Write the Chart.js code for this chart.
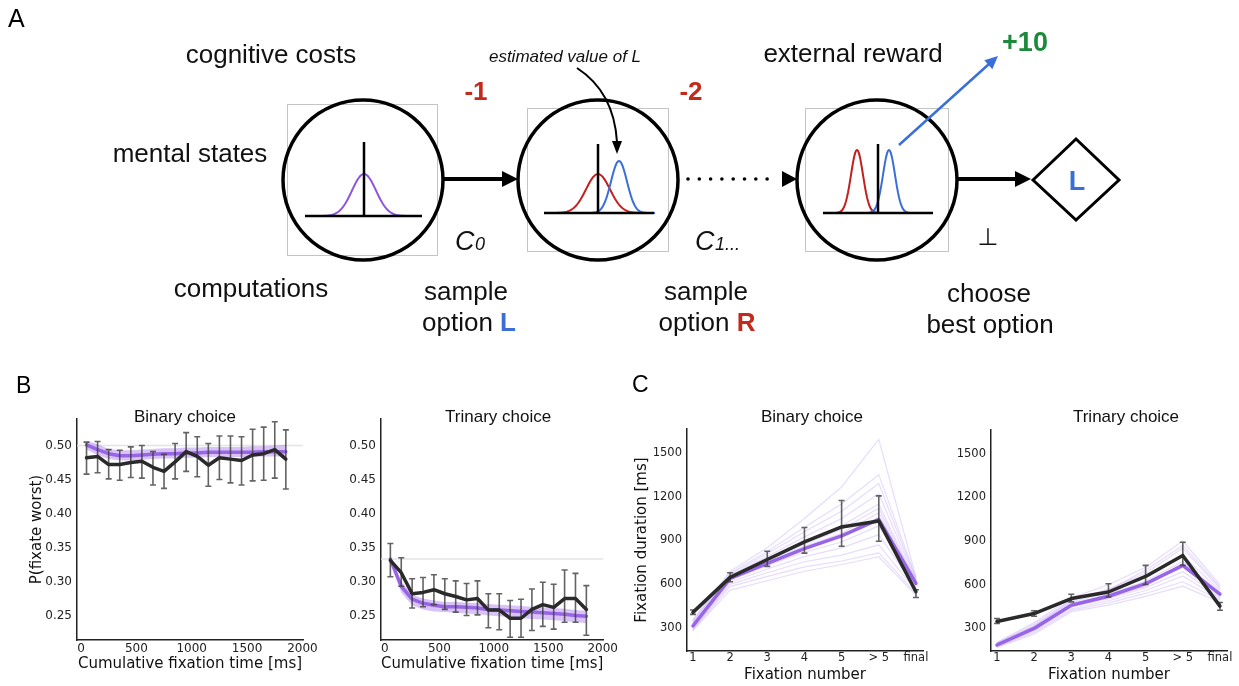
<!DOCTYPE html>
<html>
<head>
<meta charset="utf-8">
<script src="https://cdn.jsdelivr.net/npm/chart.js@4.4.1/dist/chart.umd.min.js"></script>
<style>
  html, body { margin: 0; padding: 0; background: #fff; }
  #wrap { position: relative; width: 1239px; height: 686px; overflow: hidden; }
  canvas { position: absolute; }
</style>
</head>
<body>
<div id="wrap">
  <canvas id="panelA" width="1239" height="400" style="left:0;top:0"></canvas>
  <canvas id="bBinary" width="320" height="286" style="left:0;top:400px"></canvas>
  <canvas id="bTrinary" width="300" height="286" style="left:320px;top:400px"></canvas>
  <canvas id="cBinary" width="310" height="286" style="left:620px;top:400px"></canvas>
  <canvas id="cTrinary" width="309" height="286" style="left:930px;top:400px"></canvas>
</div>
<script>
// ---- data ----
var fixTimes = [50, 150, 250, 350, 450, 550, 650, 750, 850, 950, 1050, 1150, 1250, 1350, 1450, 1550, 1650, 1750, 1850];
var timeTicks = [0, 500, 1000, 1500, 2000];
var probTicks = [0.25, 0.30, 0.35, 0.40, 0.45, 0.50];

var binaryMean = [0.482, 0.484, 0.472, 0.472, 0.475, 0.477, 0.468, 0.462, 0.476, 0.491, 0.484, 0.471, 0.482, 0.480, 0.478, 0.486, 0.488, 0.494, 0.480];
var binaryLo   = [0.458, 0.460, 0.451, 0.449, 0.453, 0.452, 0.442, 0.437, 0.451, 0.462, 0.454, 0.440, 0.450, 0.445, 0.442, 0.448, 0.449, 0.452, 0.436];
var binaryHi   = [0.505, 0.506, 0.494, 0.493, 0.498, 0.500, 0.491, 0.487, 0.503, 0.519, 0.513, 0.503, 0.514, 0.514, 0.513, 0.524, 0.527, 0.535, 0.523];
var binaryModel   = [0.501, 0.494, 0.488, 0.485, 0.485, 0.486, 0.487, 0.488, 0.488, 0.489, 0.489, 0.490, 0.490, 0.490, 0.490, 0.490, 0.491, 0.491, 0.491];
var binaryModelLo = [0.494, 0.486, 0.480, 0.478, 0.478, 0.479, 0.480, 0.481, 0.481, 0.482, 0.482, 0.483, 0.483, 0.483, 0.483, 0.483, 0.484, 0.484, 0.484];
var binaryModelHi = [0.507, 0.502, 0.495, 0.493, 0.493, 0.494, 0.495, 0.496, 0.496, 0.497, 0.497, 0.498, 0.498, 0.498, 0.498, 0.499, 0.499, 0.500, 0.501];
var binaryChance = 0.5;

var trinaryMean = [0.331, 0.313, 0.282, 0.284, 0.288, 0.282, 0.278, 0.273, 0.275, 0.258, 0.258, 0.246, 0.246, 0.259, 0.266, 0.262, 0.275, 0.275, 0.259];
var trinaryLo   = [0.307, 0.293, 0.261, 0.263, 0.266, 0.259, 0.255, 0.250, 0.251, 0.232, 0.229, 0.218, 0.218, 0.228, 0.234, 0.230, 0.240, 0.240, 0.221];
var trinaryHi   = [0.356, 0.335, 0.304, 0.306, 0.310, 0.304, 0.301, 0.297, 0.301, 0.282, 0.282, 0.272, 0.274, 0.289, 0.299, 0.296, 0.317, 0.312, 0.294];
var trinaryModel   = [0.333, 0.293, 0.274, 0.268, 0.265, 0.263, 0.263, 0.262, 0.261, 0.259, 0.258, 0.257, 0.256, 0.255, 0.254, 0.253, 0.252, 0.250, 0.249];
var trinaryModelLo = [0.327, 0.284, 0.265, 0.259, 0.256, 0.255, 0.254, 0.253, 0.252, 0.250, 0.249, 0.248, 0.246, 0.245, 0.244, 0.243, 0.242, 0.240, 0.239];
var trinaryModelHi = [0.337, 0.300, 0.281, 0.275, 0.272, 0.270, 0.270, 0.269, 0.268, 0.267, 0.266, 0.265, 0.264, 0.263, 0.262, 0.261, 0.260, 0.258, 0.257];
var trinaryChance = 0.333;

var fixNumbers = [1, 2, 3, 4, 5, 6, 7];
var fixLabels = ['1', '2', '3', '4', '5', '> 5', 'final'];
var durTicks = [300, 600, 900, 1200, 1500];

var durBinaryMean  = [409, 648, 770, 891, 993, 1034, 550];
var durBinaryLo    = [395, 618, 723, 814, 861, 895, 511];
var durBinaryHi    = [425, 680, 827, 989, 1173, 1205, 564];
var durBinaryModel = [316, 641, 743, 845, 932, 1045, 607];
var durBinarySims = [
  [285, 561, 625, 690, 736, 789, 527],
  [292, 585, 655, 720, 760, 815, 540],
  [300, 600, 680, 755, 800, 870, 560],
  [306, 615, 705, 790, 850, 940, 575],
  [312, 628, 730, 820, 890, 1000, 590],
  [322, 640, 755, 860, 950, 1090, 605],
  [330, 650, 770, 890, 1000, 1150, 615],
  [338, 660, 790, 925, 1050, 1220, 625],
  [345, 670, 810, 960, 1100, 1290, 635],
  [352, 678, 825, 990, 1150, 1350, 645],
  [362, 690, 850, 1050, 1266, 1591, 652],
  [326, 645, 762, 875, 975, 1120, 610]
];

var durTrinaryMean  = [348, 402, 505, 550, 657, 801, 453];
var durTrinaryLo    = [334, 384, 482, 516, 601, 733, 425];
var durTrinaryHi    = [368, 421, 535, 607, 733, 892, 478];
var durTrinaryModel = [186, 300, 459, 521, 607, 733, 535];
var durTrinarySims = [
  [170, 260, 415, 460, 520, 590, 480],
  [175, 270, 425, 475, 540, 620, 495],
  [180, 280, 435, 490, 560, 660, 505],
  [185, 290, 450, 505, 580, 690, 515],
  [190, 300, 460, 520, 600, 720, 530],
  [192, 310, 470, 535, 625, 760, 545],
  [195, 320, 480, 550, 650, 800, 560],
  [200, 330, 495, 570, 680, 850, 575],
  [205, 340, 510, 600, 720, 900, 600],
  [188, 295, 455, 515, 590, 740, 525],
  [198, 315, 490, 560, 700, 870, 585]
];

// ---- styles ----
var SANS = '"Liberation Sans", Arial, sans-serif';
var DEJA = '"DejaVu Sans", sans-serif';
var BLACK = '#2a2a2a';
var PURPLE = '#9765e6';
var BAND = 'rgba(170,120,240,0.45)';
var SIM = 'rgba(175,140,242,0.3)';
var RED = '#c42a1c';
var BLUE = '#3a6fd8';
var GREEN = '#1c8a3a';

Chart.defaults.animation = false;
Chart.defaults.devicePixelRatio = 1;

function pts(xs, ys) {
  return xs.map(function (x, i) { return { x: x, y: ys[i] }; });
}

// error bars, chance line and panel title
function decor(conf) {
  return {
    id: 'decor',
    beforeDatasetsDraw: function (chart) {
      if (conf.chance == null) return;
      var ctx = chart.ctx, a = chart.chartArea;
      var py = chart.scales.y.getPixelForValue(conf.chance);
      ctx.save();
      ctx.strokeStyle = '#e4e4e4';
      ctx.lineWidth = 1.5;
      ctx.beginPath(); ctx.moveTo(a.left, py); ctx.lineTo(a.right, py); ctx.stroke();
      ctx.restore();
    },
    beforeDatasetDraw: function (chart, args) {
      if (args.index !== 0) return;
      var ctx = chart.ctx, sx = chart.scales.x, sy = chart.scales.y;
      ctx.save();
      ctx.strokeStyle = 'rgba(60,60,60,0.8)';
      ctx.lineWidth = 1.6;
      conf.xs.forEach(function (x, i) {
        var px = sx.getPixelForValue(x);
        var p1 = sy.getPixelForValue(conf.lo[i]), p2 = sy.getPixelForValue(conf.hi[i]);
        ctx.beginPath();
        ctx.moveTo(px, p1); ctx.lineTo(px, p2);
        ctx.moveTo(px - 3, p1); ctx.lineTo(px + 3, p1);
        ctx.moveTo(px - 3, p2); ctx.lineTo(px + 3, p2);
        ctx.stroke();
      });
      ctx.restore();
    },
    afterDraw: function (chart) {
      var ctx = chart.ctx, a = chart.chartArea;
      ctx.save();
      ctx.font = '17px ' + SANS;
      ctx.fillStyle = '#111';
      ctx.textAlign = 'center';
      ctx.textBaseline = 'alphabetic';
      ctx.fillText(conf.title, (a.left + a.right) / 2 + conf.titleDx, a.top + conf.titleDy);
      ctx.restore();
    }
  };
}

function axisBase(extra) {
  var o = {
    grid: { display: false, drawTicks: false },
    border: { display: true, color: '#222', width: 1.5 },
    ticks: { color: '#222', maxRotation: 0, autoSkip: false }
  };
  return Object.assign(o, extra);
}

function makeChart(id, c) {
  var datasets = [
    { data: pts(c.xs, c.mean), borderColor: BLACK, borderWidth: 3.5, pointRadius: 0, fill: false, order: 0 },
    { data: pts(c.xs, c.model), borderColor: PURPLE, borderWidth: 3.5, pointRadius: 0, fill: false, order: 1 }
  ];
  if (c.bandHi) {
    datasets.push({ data: pts(c.xs, c.bandHi), borderWidth: 0, pointRadius: 0, fill: false, order: 2 });
    datasets.push({ data: pts(c.xs, c.bandLo), borderWidth: 0, pointRadius: 0, backgroundColor: BAND, fill: '-1', order: 3 });
  }
  (c.sims || []).forEach(function (s, k) {
    datasets.push({ data: pts(c.xs, s), borderColor: SIM, borderWidth: 1.2, pointRadius: 0, fill: false, order: 4 + k });
  });

  var yTitle = c.yTitle ? { display: true, text: c.yTitle, color: '#111', font: { family: DEJA, size: 15 }, padding: { top: c.yTitlePad, bottom: 0 } } : { display: false };

  return new Chart(document.getElementById(id), {
    type: 'line',
    data: { datasets: datasets },
    options: {
      responsive: false,
      events: [],
      layout: { padding: c.pad },
      plugins: { legend: { display: false }, tooltip: { enabled: false } },
      elements: { line: { tension: 0, borderJoinStyle: 'round', borderCapStyle: 'round' } },
      scales: {
        x: axisBase({
          type: 'linear', min: c.xMin, max: c.xMax,
          afterBuildTicks: function (s) { s.ticks = c.xTicks.map(function (v) { return { value: v }; }); },
          afterFit: function (s) { s.height = c.xH; },
          ticks: { color: '#222', maxRotation: 0, autoSkip: false, padding: c.xTickPad, font: { family: DEJA, size: c.tickSize }, callback: c.xFmt },
          title: { display: true, text: c.xTitle, color: '#111', font: { family: DEJA, size: 15 }, padding: { top: 0, bottom: c.xTitlePad } }
        }),
        y: axisBase({
          type: 'linear', min: c.yMin, max: c.yMax,
          afterBuildTicks: function (s) { s.ticks = c.yTicks.map(function (v) { return { value: v }; }); },
          afterFit: function (s) { s.width = c.yW; },
          ticks: { color: '#222', padding: 5, font: { family: DEJA, size: c.tickSize }, callback: c.yFmt },
          title: yTitle
        })
      }
    },
    plugins: [decor({ xs: c.xs, lo: c.lo, hi: c.hi, chance: c.chance, title: c.title, titleDx: c.titleDx, titleDy: c.titleDy })]
  });
}

function fmtTime(v) { return String(v); }
function fmtProb(v) { return v.toFixed(2); }
function fmtFix(v) { return fixLabels[fixNumbers.indexOf(v)]; }
function fmtDur(v) { return String(v); }

makeChart('bBinary', {
  xs: fixTimes, mean: binaryMean, lo: binaryLo, hi: binaryHi, model: binaryModel,
  bandLo: binaryModelLo, bandHi: binaryModelHi, chance: binaryChance,
  title: 'Binary choice', titleDx: -5, titleDy: 3,
  xMin: -36, xMax: 2005, xTicks: timeTicks, xFmt: fmtTime, xTitle: 'Cumulative fixation time [ms]',
  yMin: 0.214, yMax: 0.539, yTicks: probTicks, yFmt: fmtProb, yTitle: 'P(fixate worst)', yTitlePad: 28,
  pad: { left: 0, top: 19, right: 17, bottom: 0 }, yW: 77, xH: 46, xTickPad: 2, xTitlePad: 13, tickSize: 12
});

makeChart('bTrinary', {
  xs: fixTimes, mean: trinaryMean, lo: trinaryLo, hi: trinaryHi, model: trinaryModel,
  bandLo: trinaryModelLo, bandHi: trinaryModelHi, chance: trinaryChance,
  title: 'Trinary choice', titleDx: 6, titleDy: 3,
  xMin: -36, xMax: 2005, xTicks: timeTicks, xFmt: fmtTime, xTitle: 'Cumulative fixation time [ms]',
  yMin: 0.214, yMax: 0.539, yTicks: probTicks, yFmt: fmtProb, yTitle: null,
  pad: { left: 0, top: 19, right: 13, bottom: 0 }, yW: 61, xH: 46, xTickPad: 2, xTitlePad: 13, tickSize: 12
});

makeChart('cBinary', {
  xs: fixNumbers, mean: durBinaryMean, lo: durBinaryLo, hi: durBinaryHi, model: durBinaryModel,
  sims: durBinarySims, chance: null,
  title: 'Binary choice', titleDx: 7, titleDy: -7,
  xMin: 0.84, xMax: 7.19, xTicks: fixNumbers, xFmt: fmtFix, xTitle: 'Fixation number',
  yMin: 145, yMax: 1662, yTicks: durTicks, yFmt: fmtDur, yTitle: 'Fixation duration [ms]', yTitlePad: 13,
  pad: { left: 0, top: 29, right: 7, bottom: 0 }, yW: 67, xH: 35, xTickPad: 0, xTitlePad: 2, tickSize: 11.5
});

makeChart('cTrinary', {
  xs: fixNumbers, mean: durTrinaryMean, lo: durTrinaryLo, hi: durTrinaryHi, model: durTrinaryModel,
  sims: durTrinarySims, chance: null,
  title: 'Trinary choice', titleDx: 17, titleDy: -8,
  xMin: 0.84, xMax: 7.19, xTicks: fixNumbers, xFmt: fmtFix, xTitle: 'Fixation number',
  yMin: 145, yMax: 1662, yTicks: durTicks, yFmt: fmtDur, yTitle: null,
  pad: { left: 0, top: 30, right: 12, bottom: 0 }, yW: 61, xH: 35, xTickPad: 0, xTitlePad: 2, tickSize: 11.5
});

// ---- panel A: schematic drawn on a bare chart canvas ----
function bell(ctx, cx, baseY, h, sigma, halfW, color) {
  ctx.beginPath();
  for (var dx = -halfW; dx <= halfW; dx += 1) {
    var y = baseY - h * Math.exp(-(dx * dx) / (2 * sigma * sigma));
    if (dx === -halfW) ctx.moveTo(cx + dx, y); else ctx.lineTo(cx + dx, y);
  }
  ctx.strokeStyle = color;
  ctx.lineWidth = 2;
  ctx.stroke();
}

function head(ctx, tx, ty, ang, len, half, color) {
  ctx.beginPath();
  ctx.moveTo(tx, ty);
  ctx.lineTo(tx - len * Math.cos(ang) + half * Math.sin(ang), ty - len * Math.sin(ang) - half * Math.cos(ang));
  ctx.lineTo(tx - len * Math.cos(ang) - half * Math.sin(ang), ty - len * Math.sin(ang) + half * Math.cos(ang));
  ctx.closePath();
  ctx.fillStyle = color;
  ctx.fill();
}

function txt(ctx, s, x, y, font, color, align) {
  ctx.font = font;
  ctx.fillStyle = color;
  ctx.textAlign = align || 'center';
  ctx.textBaseline = 'alphabetic';
  ctx.fillText(s, x, y);
}

function mixed(ctx, a, b, cx, y, colorB) {
  var fa = '26px ' + SANS, fb = 'bold 26px ' + SANS;
  ctx.font = fa; var wa = ctx.measureText(a).width;
  ctx.font = fb; var wb = ctx.measureText(b).width;
  var x0 = cx - (wa + wb) / 2;
  txt(ctx, a, x0, y, fa, '#111', 'left');
  txt(ctx, b, x0 + wa, y, fb, colorB, 'left');
}

function stateCircle(ctx, cx, cy, box) {
  ctx.strokeStyle = '#c4c4c4';
  ctx.lineWidth = 1;
  ctx.strokeRect(box[0] + 0.5, box[1] + 0.5, box[2] - box[0], box[3] - box[1]);
  ctx.beginPath();
  ctx.arc(cx, cy, 80, 0, 2 * Math.PI);
  ctx.strokeStyle = '#000';
  ctx.lineWidth = 3.5;
  ctx.stroke();
}

function axes(ctx, x1, x2, baseY, vx, topY) {
  ctx.strokeStyle = '#000';
  ctx.lineWidth = 2.5;
  ctx.beginPath();
  ctx.moveTo(x1, baseY); ctx.lineTo(x2, baseY);
  ctx.moveTo(vx, baseY); ctx.lineTo(vx, topY);
  ctx.stroke();
}

var schematic = {
  id: 'schematic',
  afterDraw: function (chart) {
    var ctx = chart.ctx;
    ctx.save();
    ctx.lineCap = 'butt';

    // panel letters
    txt(ctx, 'A', 8, 27, '25px ' + SANS, '#000', 'left');
    txt(ctx, 'B', 16, 393, '23px ' + SANS, '#000', 'left');
    txt(ctx, 'C', 632, 392, '23px ' + SANS, '#000', 'left');

    // row labels
    txt(ctx, 'cognitive costs', 271, 63, '26px ' + SANS, '#111');
    txt(ctx, 'mental states', 190, 162, '26px ' + SANS, '#111');
    txt(ctx, 'computations', 251, 297, '26px ' + SANS, '#111');
    txt(ctx, 'external reward', 853, 62, '26px ' + SANS, '#111');

    // state 1
    stateCircle(ctx, 363, 180, [287, 104, 437, 255]);
    bell(ctx, 364, 216, 42, 12, 42, '#8e55dc');
    axes(ctx, 305, 422, 216, 364, 142);

    // state 2
    stateCircle(ctx, 598, 180, [527, 108, 668, 251]);
    bell(ctx, 598, 213, 39, 12, 46, '#c21f1f');
    bell(ctx, 619, 213, 52, 8, 36, BLUE);
    axes(ctx, 544, 654, 213, 598, 144);

    // state 3
    stateCircle(ctx, 877, 180, [805, 108, 948, 251]);
    bell(ctx, 857, 213, 63, 6, 32, '#c21f1f');
    bell(ctx, 889, 213, 63, 6, 32, BLUE);
    axes(ctx, 823, 933, 213, 878, 144);

    // transitions
    ctx.strokeStyle = '#000';
    ctx.lineWidth = 4;
    ctx.beginPath(); ctx.moveTo(443, 179); ctx.lineTo(505, 179); ctx.stroke();
    head(ctx, 518, 179, 0, 16, 8, '#000');
    ctx.fillStyle = '#000';
    for (var dx = 688; dx <= 778; dx += 11.3) {
      ctx.beginPath(); ctx.arc(dx, 179, 1.8, 0, 2 * Math.PI); ctx.fill();
    }
    head(ctx, 797, 179, 0, 15, 8, '#000');
    ctx.lineWidth = 4;
    ctx.beginPath(); ctx.moveTo(958, 179); ctx.lineTo(1018, 179); ctx.stroke();
    head(ctx, 1031, 179, 0, 16, 8, '#000');

    // terminal diamond
    ctx.beginPath();
    ctx.moveTo(1033, 180); ctx.lineTo(1076, 139); ctx.lineTo(1119, 180); ctx.lineTo(1076, 220); ctx.closePath();
    ctx.lineWidth = 3;
    ctx.strokeStyle = '#000';
    ctx.stroke();
    txt(ctx, 'L', 1077, 190, 'bold 27px ' + SANS, BLUE);

    // annotation arrow
    ctx.beginPath();
    ctx.moveTo(577, 68);
    ctx.quadraticCurveTo(614, 92, 617, 142);
    ctx.lineWidth = 2;
    ctx.strokeStyle = '#000';
    ctx.stroke();
    head(ctx, 617, 154, Math.PI / 2, 13, 5, '#000');
    txt(ctx, 'estimated value of L', 565, 62, 'italic 17px ' + SANS, '#111');

    // reward arrow
    ctx.beginPath();
    ctx.moveTo(899, 145); ctx.lineTo(989, 64);
    ctx.lineWidth = 2.5;
    ctx.strokeStyle = BLUE;
    ctx.stroke();
    head(ctx, 998, 56, Math.atan2(-88, 98), 13, 6, BLUE);

    // costs and reward values
    txt(ctx, '-1', 476, 100, 'bold 26px ' + SANS, RED);
    txt(ctx, '-2', 691, 100, 'bold 26px ' + SANS, RED);
    txt(ctx, '+10', 1025, 51, 'bold 27px ' + SANS, GREEN);

    // computation labels
    txt(ctx, 'C', 455, 250, 'italic 27px ' + SANS, '#111', 'left');
    txt(ctx, '0', 475, 250, 'italic 18px ' + SANS, '#111', 'left');
    txt(ctx, 'C', 695, 250, 'italic 27px ' + SANS, '#111', 'left');
    txt(ctx, '1...', 715, 250, 'italic 18px ' + SANS, '#111', 'left');
    txt(ctx, '\u22A5', 988, 245, '24px ' + DEJA, '#111');

    txt(ctx, 'sample', 466, 300, '26px ' + SANS, '#111');
    mixed(ctx, 'option ', 'L', 469, 331, BLUE);
    txt(ctx, 'sample', 706, 300, '26px ' + SANS, '#111');
    mixed(ctx, 'option ', 'R', 707, 331, RED);
    txt(ctx, 'choose', 989, 302, '26px ' + SANS, '#111');
    txt(ctx, 'best option', 990, 333, '26px ' + SANS, '#111');

    ctx.restore();
  }
};

new Chart(document.getElementById('panelA'), {
  type: 'scatter',
  data: { datasets: [] },
  options: {
    responsive: false,
    events: [],
    layout: { padding: 0 },
    plugins: { legend: { display: false }, tooltip: { enabled: false } },
    scales: {
      x: { type: 'linear', display: false, min: 0, max: 1239 },
      y: { type: 'linear', display: false, min: 0, max: 400, reverse: true }
    }
  },
  plugins: [schematic]
});
</script>
</body>
</html>
